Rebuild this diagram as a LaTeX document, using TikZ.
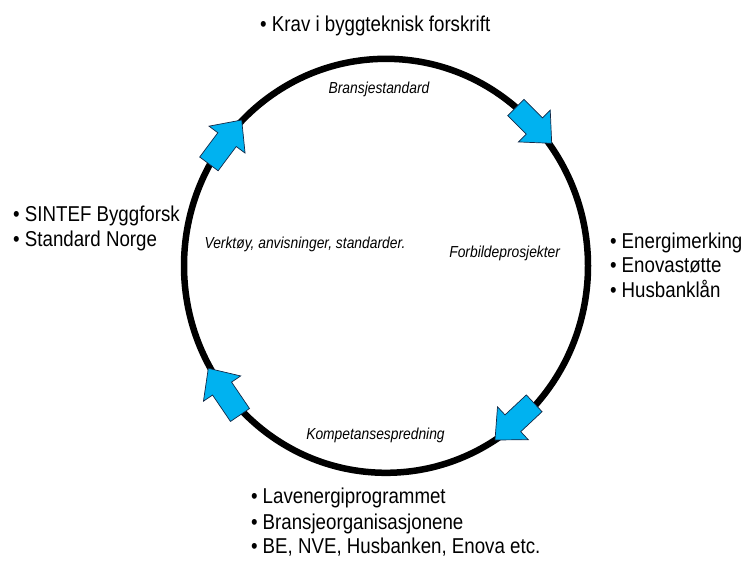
\documentclass[tikz,border=0pt]{standalone}
\usepackage{fontspec}
\setmainfont[FakeStretch=0.87]{Liberation Sans}
\usetikzlibrary{calc}
\definecolor{flowblue}{RGB}{0,178,240}
\definecolor{flowedge}{RGB}{20,40,70}
\tikzset{
  ring/.style={line width=6.5pt, black},
  flowarrow/.style={fill=flowblue, draw=flowedge, line width=0.7pt, line join=miter},
  bullettext/.style={anchor=base west, inner sep=0pt, font=\fontsize{21.5}{25}\selectfont},
  phase/.style={anchor=base, inner sep=0pt, font=\fontsize{15.9}{18}\selectfont\itshape}
}
\newcommand{\flowarr}[3]{%
  \coordinate (#1t) at #2; \coordinate (#1h) at #3;
  \coordinate (#1m) at ($(#1h)!24.5pt!(#1t)$);
  \draw[flowarrow] ($(#1t)!11.5pt!90:(#1h)$) -- ($(#1m)!11.5pt!90:(#1h)$)
    -- ($(#1m)!22.5pt!90:(#1h)$) -- (#1h) -- ($(#1m)!22.5pt!-90:(#1h)$)
    -- ($(#1m)!11.5pt!-90:(#1h)$) -- ($(#1t)!11.5pt!-90:(#1h)$) -- cycle;}
\begin{document}
\begin{tikzpicture}[x=1pt, y=-1pt]
\path[use as bounding box] (0,0) rectangle (744,560);
% cycle
\draw[ring] (386,265.8) ellipse [x radius=202, y radius=207];
\flowarr{a}{(208.9,163.9)}{(241.7,120)}
\flowarr{b}{(515.8,107.5)}{(551.7,143.3)}
\flowarr{c}{(534.2,403.3)}{(495,440)}
\flowarr{d}{(240,415)}{(208.3,368.3)}
% phase labels
\node[phase] (p1) at (379,93.3) {Bransjestandard};
\node[phase] (p2) at (305,248.3) {Verktøy, anvisninger, standarder.};
\node[phase] (p3) at (504.7,257.3) {Forbildeprosjekter};
\node[phase] (p4) at (375.5,439.3) {Kompetansespredning};
% bullet lists
\node[bullettext] (t1) at (260,31) {• Krav i byggteknisk forskrift};
\node[bullettext] (l1) at (13,221.7) {• SINTEF Byggforsk};
\node[bullettext] (l2) at (13,246.7) {• Standard Norge};
\node[bullettext] (r1) at (609.8,248) {• Energimerking};
\node[bullettext] (r2) at (609.8,272.5) {• Enovastøtte};
\node[bullettext] (r3) at (609.8,297) {• Husbanklån};
\node[bullettext] (u1) at (250.8,503.3) {• Lavenergiprogrammet};
\node[bullettext] (u2) at (250.8,529.3) {• Bransjeorganisasjonene};
\node[bullettext] (u3) at (250.8,553.3) {• BE, NVE, Husbanken, Enova etc.};
\end{tikzpicture}
\end{document}
